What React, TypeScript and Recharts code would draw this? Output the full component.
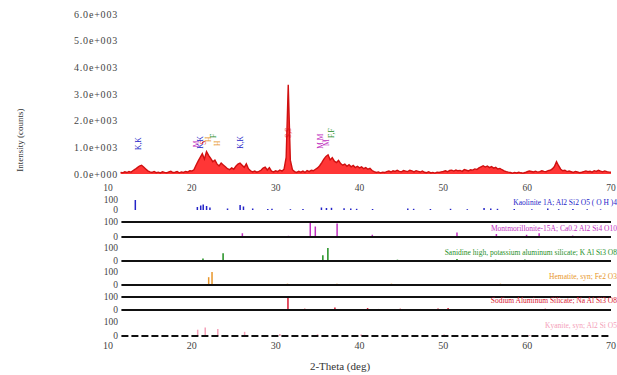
import React from "react";
import { ComposedChart, Area, Bar, Scatter, XAxis, YAxis, ReferenceLine } from "recharts";

const SERIF = "'Liberation Serif', 'DejaVu Serif', serif";

// measured scan, 2theta from 11.5 in 0.25 deg steps
const scanStart = 11.5;
const scanStep = 0.25;
const counts = [
  60, 45,
  80, 55, 95, 70, 130, 180, 240, 300, 330, 260, 190, 120,
  80, 60, 95, 50, 70, 40, 85, 60, 45, 75, 100, 55,
  65, 90, 45, 80, 60, 95, 75, 120, 110, 160, 330, 480,
  620, 760, 560, 840, 700, 590, 460, 520, 380, 300, 410, 340,
  270, 200, 160, 230, 180, 290, 370, 410, 330, 250, 380, 200,
  120, 80, 110, 70, 100, 140, 220, 260, 150, 240, 110, 80,
  120, 90, 150, 110, 180, 620, 3350, 520, 160, 90, 60, 100,
  70, 110, 60, 130, 90, 140, 120, 180, 230, 310, 430, 560,
  660, 720, 530, 610, 480, 430, 510, 390, 330, 370, 290, 350,
  270, 320, 240, 290, 230, 270, 200, 240, 180, 210, 130, 90,
  60, 80, 45, 70, 55, 90, 110, 75, 120, 95, 140, 100,
  85, 130, 110, 90, 140, 115, 80, 125, 100, 75, 115, 65,
  50, 85, 40, 60, 35, 70, 55, 80, 95, 120, 85, 130,
  145, 110, 150, 120, 135, 100, 165, 140, 115, 160, 145, 190,
  170, 230, 270, 310, 260, 300, 240, 280, 220, 250, 190, 210,
  160, 120, 90, 70, 55, 30, 60, 40, 70, 45, 30, 55,
  85, 110, 95, 75, 105, 70, 90, 120, 100, 85, 125, 140,
  190, 280, 460, 310, 180, 120, 140, 90, 110, 85, 60, 95,
  75, 50, 65, 90, 115, 85, 100, 70, 125, 95, 140, 105,
  80, 115, 90, 70, 65,
];

const xTicks = [10, 20, 30, 40, 50, 60, 70];
const yTicks = [0, 1000, 2000, 3000, 4000, 5000, 6000];

// peak labels on the measured pattern
const markTheta = [13.6, 20.6, 21.0, 21.4, 22.0, 22.6, 23.0, 25.8, 31.5, 35.3, 36.0, 36.6];
const markCounts = [900, 1000, 950, 1100, 1200, 1350, 1050, 950, 1350, 950, 1050, 1350];
const markText = ["K,K", "M", "K,K", "S", "H", "F", "H", "K,K", "S,S", "M,M", "M", "F,F"];
const markColor = ["#2424c8", "#c030c0", "#2424c8", "#e01010", "#e8962a", "#1f8f1f", "#e8962a", "#2424c8", "#e01010", "#c030c0", "#c030c0", "#1f8f1f"];

// reference stick patterns
const kaoliniteTheta = [13.2, 20.6, 21.0, 21.3, 21.7, 22.1, 24.2, 25.7, 26.1, 27.2, 29.0, 29.5, 31.7, 33.2, 35.4, 36.0, 36.6, 38.1, 38.9, 39.6, 41.5, 45.7, 46.4, 48.4, 50.8, 52.8, 54.8, 55.6, 56.4, 58.4, 60.5, 62.4, 63.7, 65.4, 67.1, 68.7];
const kaoliniteRel = [100, 30, 45, 55, 40, 25, 15, 50, 35, 15, 10, 12, 8, 10, 25, 20, 22, 18, 15, 12, 10, 15, 12, 10, 12, 8, 20, 15, 12, 10, 8, 15, 8, 10, 8, 6];
const montTheta = [26.0, 31.5, 34.1, 34.7, 37.3, 41.5, 51.6, 56.3, 59.9, 61.4, 65.4];
const montRel = [25, 8, 100, 70, 90, 15, 30, 20, 15, 25, 10];
const sanidineTheta = [21.3, 23.7, 35.6, 36.2, 44.5, 51.6, 56.2, 59.7];
const sanidineRel = [20, 60, 45, 100, 10, 15, 10, 12];
const hematiteTheta = [22.0, 22.4, 31.4, 37.3, 38.8, 43.8, 50.3, 56.8, 62.5];
const hematiteRel = [60, 100, 10, 10, 8, 10, 8, 10, 8];
const sodiumTheta = [31.5, 33.5, 37.1, 41.0, 42.3, 44.9, 49.4, 50.6, 62.2];
const sodiumRel = [100, 10, 20, 15, 8, 10, 12, 15, 10];
const kyaniteTheta = [20.7, 21.6, 23.1, 26.3, 30.5, 35.0, 40.2, 45.6, 50.1, 55.0, 60.3, 64.8];
const kyaniteRel = [45, 60, 50, 30, 15, 12, 10, 8, 10, 8, 6, 8];

const phaseNames = [
  "Kaolinite 1A; Al2 Si2 O5 ( O H )4",
  "Montmorillonite-15A; Ca0.2 Al2 Si4 O10",
  "Sanidine high, potassium aluminum silicate; K Al Si3 O8",
  "Hematite, syn; Fe2 O3",
  "Sodium Aluminum Silicate; Na Al Si3 O8",
  "Kyanite, syn; Al2 Si O5",
];

const pattern = counts.map((c, i) => ({ x: scanStart + i * scanStep, y: c }));
const marks = markTheta.map((t, i) => ({ x: t, y: markCounts[i], t: markText[i], c: markColor[i] }));

const fmtCounts = (v: number) => (v === 0 ? "0.0e+000" : `${(v / 1000).toFixed(1)}e+003`);

const tickStyle = { fontSize: 10, fill: "#444", fontFamily: SERIF };

function MarkShape(props: any) {
  const { cx, cy, payload } = props;
  if (cx == null || cy == null) return null;
  return (
    <text x={cx} y={cy} transform={`rotate(-90 ${cx} ${cy})`} fill={payload.c} fontSize={7.5} fontFamily={SERIF} dy="0.35em">
      {payload.t}
    </text>
  );
}

interface PanelProps {
  top: number;
  h: number;
  theta: number[];
  rel: number[];
  color: string;
  topLine?: boolean;
  bottomLine?: boolean;
  dashed?: boolean;
  showX?: boolean;
}

function StickPanel({ top, h, theta, rel, color, topLine, bottomLine, dashed, showX }: PanelProps) {
  const data = theta.map((t, i) => ({ x: t, i: rel[i] }));
  const axisH = showX ? 18 : 0;
  return (
    <div style={{ position: "absolute", left: 0, top: top - 6 }}>
      <ComposedChart
        width={617}
        height={h + 12 + axisH}
        data={data}
        margin={{ top: 6, right: 6, bottom: 6, left: 0 }}
        style={{ overflow: "visible" }}
      >
        <XAxis
          type="number"
          dataKey="x"
          domain={[10, 70]}
          ticks={xTicks}
          interval={0}
          hide={!showX}
          height={axisH}
          axisLine={false}
          tickLine={false}
          tick={tickStyle}
          tickMargin={0}
        />
        <YAxis
          type="number"
          domain={[0, 100]}
          ticks={[0, 100]}
          interval={0}
          width={108}
          axisLine={false}
          tickLine={false}
          tick={{ ...tickStyle, fontSize: 9.5, dx: 18 }}
        />
        {topLine && (
          <ReferenceLine segment={[{ x: 11.6, y: 100 }, { x: 70, y: 100 }]} stroke="#111" strokeWidth={1.8} />
        )}
        {bottomLine && (
          <ReferenceLine
            segment={[{ x: 11.6, y: 0 }, { x: 70, y: 0 }]}
            stroke="#111"
            strokeWidth={1.8}
            strokeDasharray={dashed ? "7 3" : undefined}
          />
        )}
        <Bar dataKey="i" fill={color} barSize={1.5} isAnimationActive={false} />
      </ComposedChart>
    </div>
  );
}

const panels = [
  { top: 200, h: 10, theta: kaoliniteTheta, rel: kaoliniteRel, color: "#2424c8", name: phaseNames[0], ny: 203 },
  { top: 222, h: 15, theta: montTheta, rel: montRel, color: "#c030c0", topLine: true, bottomLine: true, name: phaseNames[1], ny: 229 },
  { top: 248, h: 13, theta: sanidineTheta, rel: sanidineRel, color: "#1f8f1f", bottomLine: true, name: phaseNames[2], ny: 253 },
  { top: 272, h: 13, theta: hematiteTheta, rel: hematiteRel, color: "#e8962a", bottomLine: true, name: phaseNames[3], ny: 277 },
  { top: 297, h: 13, theta: sodiumTheta, rel: sodiumRel, color: "#d81830", topLine: true, bottomLine: true, name: phaseNames[4], ny: 301 },
  { top: 322, h: 14, theta: kyaniteTheta, rel: kyaniteRel, color: "#f4a0b8", bottomLine: true, dashed: true, showX: true, name: phaseNames[5], ny: 326 },
];

export default function App() {
  return (
    <div
      style={{
        position: "absolute",
        left: 0,
        top: 0,
        width: 617,
        height: 375,
        background: "#fff",
        overflow: "hidden",
        fontFamily: SERIF,
      }}
    >
      <div style={{ position: "absolute", left: 0, top: 0 }}>
        <ComposedChart
          width={617}
          height={200}
          data={pattern}
          margin={{ top: 14, right: 6, bottom: 0, left: 0 }}
          style={{ overflow: "visible" }}
        >
          <XAxis
            type="number"
            dataKey="x"
            domain={[10, 70]}
            ticks={xTicks}
            interval={0}
            height={26}
            axisLine={false}
            tickLine={false}
            tick={{ ...tickStyle, fontSize: 9.5 }}
            tickMargin={4}
          />
          <YAxis
            type="number"
            domain={[0, 6000]}
            ticks={yTicks}
            interval={0}
            width={108}
            axisLine={false}
            tickLine={false}
            tickFormatter={fmtCounts}
            tick={{ ...tickStyle, dx: 18, letterSpacing: 0.8 }}
          />
          <Area
            type="linear"
            dataKey="y"
            stroke="#d01010"
            strokeWidth={1.4}
            fill="#ff2020"
            fillOpacity={0.9}
            dot={false}
            isAnimationActive={false}
          />
          <Scatter data={marks} dataKey="y" shape={<MarkShape />} isAnimationActive={false} />
        </ComposedChart>
      </div>

      {panels.map((p, k) => (
        <StickPanel key={k} {...p} />
      ))}

      {panels.map((p, k) => (
        <div
          key={`n${k}`}
          style={{
            position: "absolute",
            right: 0,
            top: p.ny - 5,
            fontSize: 7.5,
            color: p.color,
            whiteSpace: "nowrap",
            lineHeight: "10px",
          }}
        >
          {p.name}
        </div>
      ))}

      <div
        style={{
          position: "absolute",
          left: 20,
          top: 140,
          transform: "translate(-50%, -50%) rotate(-90deg)",
          fontSize: 9,
          color: "#333",
          whiteSpace: "nowrap",
        }}
      >
        Intensity (counts)
      </div>
      <div
        style={{
          position: "absolute",
          left: 340,
          top: 366,
          transform: "translate(-50%, -50%)",
          fontSize: 11,
          color: "#333",
          whiteSpace: "nowrap",
        }}
      >
        2-Theta (deg)
      </div>
    </div>
  );
}
